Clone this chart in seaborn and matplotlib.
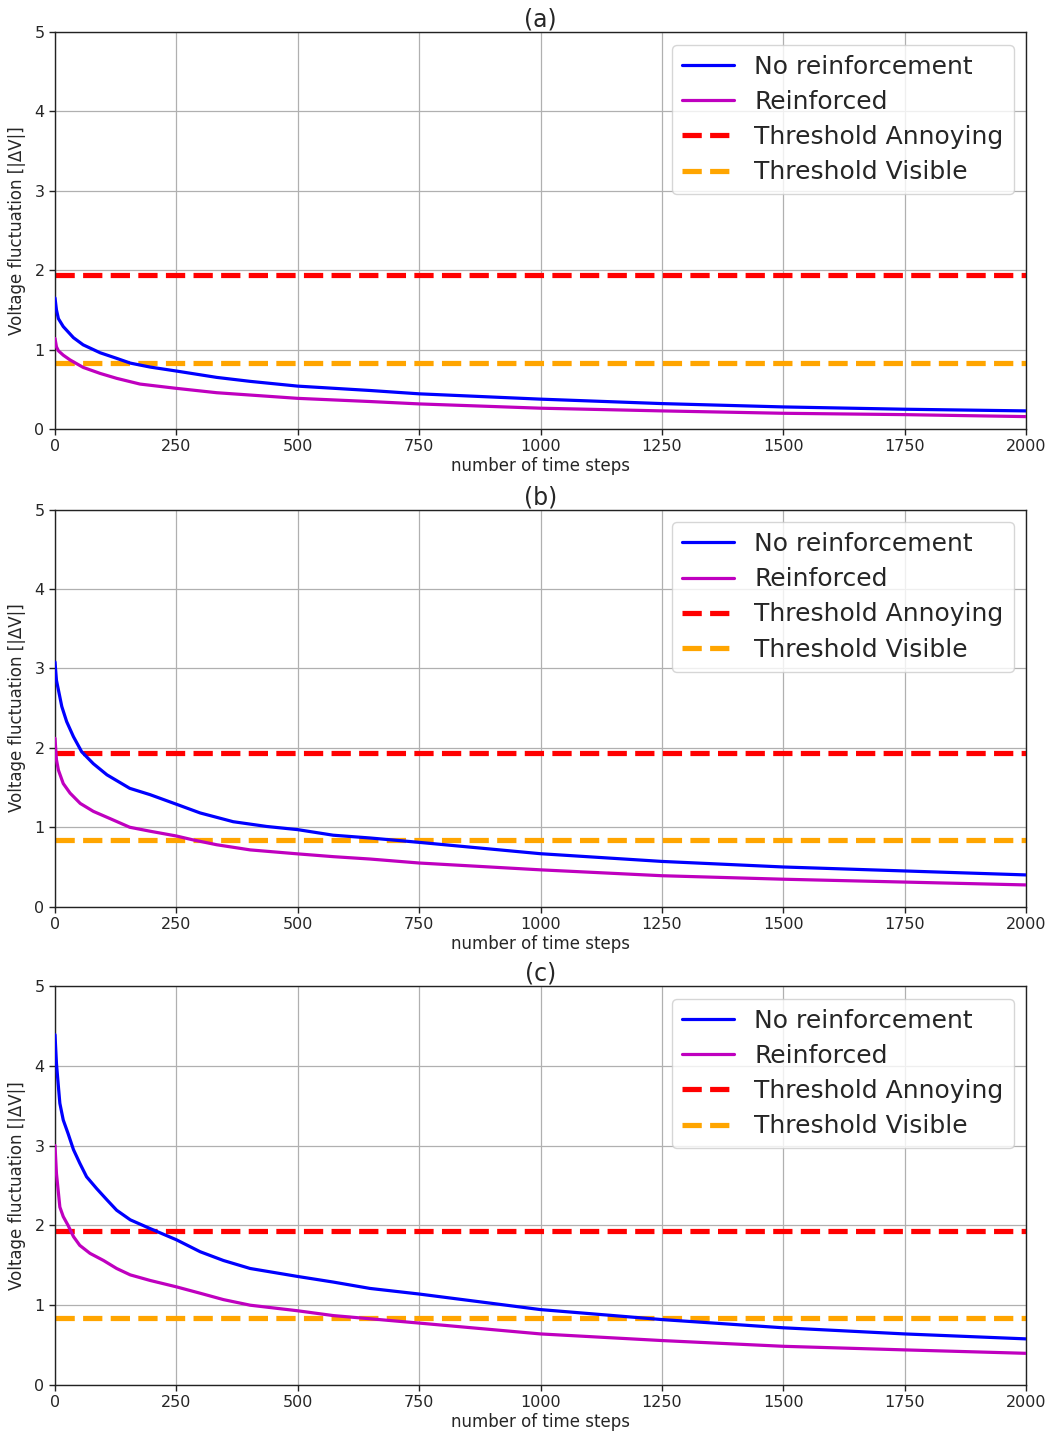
import matplotlib
matplotlib.use("Agg")
import matplotlib.pyplot as plt
import pandas as pd
import seaborn as sns

# Sorted voltage-fluctuation curves for three network cases
steps_a_base = [0, 3, 7, 17, 38, 58, 93, 127, 155, 196, 250, 333, 402, 500, 649, 750, 1000, 1250, 1500, 1750, 2000]
volts_a_base = [1.65, 1.50, 1.39, 1.29, 1.15, 1.06, 0.96, 0.89, 0.83, 0.78, 0.73, 0.65, 0.60, 0.54, 0.485, 0.443, 0.376, 0.32, 0.278, 0.249, 0.228]
steps_a_reinf = [0, 3, 7, 17, 31, 58, 93, 127, 175, 250, 333, 500, 649, 750, 1000, 1250, 1500, 1750, 2000]
volts_a_reinf = [1.14, 1.035, 0.985, 0.93, 0.87, 0.776, 0.70, 0.638, 0.566, 0.512, 0.457, 0.386, 0.346, 0.316, 0.262, 0.228, 0.198, 0.181, 0.156]

steps_b_base = [0, 3, 7, 14, 24, 38, 55, 79, 107, 154, 196, 250, 299, 367, 436, 500, 573, 649, 750, 1000, 1250, 1500, 1750, 2000]
volts_b_base = [3.08, 2.85, 2.73, 2.52, 2.33, 2.14, 1.95, 1.80, 1.66, 1.49, 1.41, 1.29, 1.18, 1.07, 1.01, 0.97, 0.90, 0.865, 0.81, 0.667, 0.57, 0.50, 0.45, 0.40]
steps_b_reinf = [0, 3, 7, 17, 31, 52, 79, 113, 154, 196, 250, 285, 333, 402, 500, 573, 649, 750, 1000, 1250, 1500, 1750, 2000]
volts_b_reinf = [2.12, 1.85, 1.72, 1.55, 1.43, 1.30, 1.20, 1.11, 1.00, 0.95, 0.89, 0.84, 0.78, 0.715, 0.665, 0.63, 0.60, 0.55, 0.464, 0.39, 0.346, 0.31, 0.274]

steps_c_base = [0, 3, 7, 10, 17, 27, 38, 51, 65, 86, 107, 127, 155, 196, 250, 299, 347, 402, 500, 573, 649, 750, 1000, 1250, 1500, 1750, 2000]
volts_c_base = [4.39, 4.03, 3.74, 3.53, 3.32, 3.15, 2.95, 2.78, 2.61, 2.46, 2.32, 2.19, 2.07, 1.96, 1.82, 1.67, 1.56, 1.46, 1.36, 1.29, 1.21, 1.14, 0.945, 0.82, 0.717, 0.64, 0.578]
steps_c_reinf = [0, 3, 10, 17, 27, 38, 51, 72, 100, 127, 155, 196, 250, 299, 347, 402, 500, 573, 649, 750, 1000, 1250, 1500, 1750, 2000]
volts_c_reinf = [3.0, 2.65, 2.23, 2.11, 2.0, 1.86, 1.75, 1.65, 1.56, 1.46, 1.38, 1.31, 1.23, 1.15, 1.07, 1.0, 0.93, 0.87, 0.83, 0.776, 0.64, 0.557, 0.485, 0.44, 0.397]

threshold_annoying = 1.935
threshold_visible = 0.837

panel_titles = ["(a)", "(b)", "(c)"]
x_ticks = [0, 250, 500, 750, 1000, 1250, 1500, 1750, 2000]
y_ticks = [0, 1, 2, 3, 4, 5]

sns.set_theme(style="ticks")
plt.rcParams["font.family"] = ["DejaVu Sans"]
plt.rcParams.update({
    "axes.edgecolor": "#222222",
    "axes.linewidth": 1.0,
    "xtick.color": "#222222",
    "ytick.color": "#222222",
    "xtick.labelcolor": "#262626",
    "ytick.labelcolor": "#262626",
})

W, H = 1047, 1438
fig = plt.figure(figsize=(W / 100, H / 100), dpi=100)

panels = [
    (steps_a_base, volts_a_base, steps_a_reinf, volts_a_reinf),
    (steps_b_base, volts_b_base, steps_b_reinf, volts_b_reinf),
    (steps_c_base, volts_c_base, steps_c_reinf, volts_c_reinf),
]
tops = [32, 509.5, 986]
bottoms = [429, 906.7, 1385]
left_px, right_px = 55, 1026

for i, (sb, vb, sr, vr) in enumerate(panels):
    ax = fig.add_axes([left_px / W, 1 - bottoms[i] / H,
                       (right_px - left_px) / W, (bottoms[i] - tops[i]) / H])
    df_b = pd.DataFrame({"step": sb, "volt": vb})
    df_r = pd.DataFrame({"step": sr, "volt": vr})
    sns.lineplot(data=df_b, x="step", y="volt", ax=ax, color="#0000ff",
                 linewidth=2.3, label="No reinforcement", zorder=3)
    sns.lineplot(data=df_r, x="step", y="volt", ax=ax, color="#bf00bf",
                 linewidth=2.3, label="Reinforced", zorder=3)
    ax.axhline(threshold_annoying, color="#ff0000", linestyle="--",
               linewidth=3.75, label="Threshold Annoying", zorder=2)
    ax.axhline(threshold_visible, color="#ffa500", linestyle="--",
               linewidth=3.75, label="Threshold Visible", zorder=2)

    ax.set_xlim(0, 2000)
    ax.set_ylim(0, 5)
    ax.set_xticks(x_ticks)
    ax.set_yticks(y_ticks)
    ax.grid(True, color="#b0b0b0", linewidth=0.9)
    ax.set_axisbelow(True)
    ax.tick_params(labelsize=11.5, length=4, width=1)
    ax.set_xlabel("number of time steps", fontsize=12, labelpad=2)
    ax.set_ylabel("Voltage fluctuation [|\u0394V|]", fontsize=12, labelpad=6)
    ax.set_title(panel_titles[i], fontsize=17, pad=1)
    ax.legend(loc="upper right", fontsize=18, labelspacing=0.45,
              handlelength=2.1, framealpha=0.8, edgecolor="#cccccc",
              fancybox=True)

fig.savefig("out.png", dpi=100, facecolor="white")
